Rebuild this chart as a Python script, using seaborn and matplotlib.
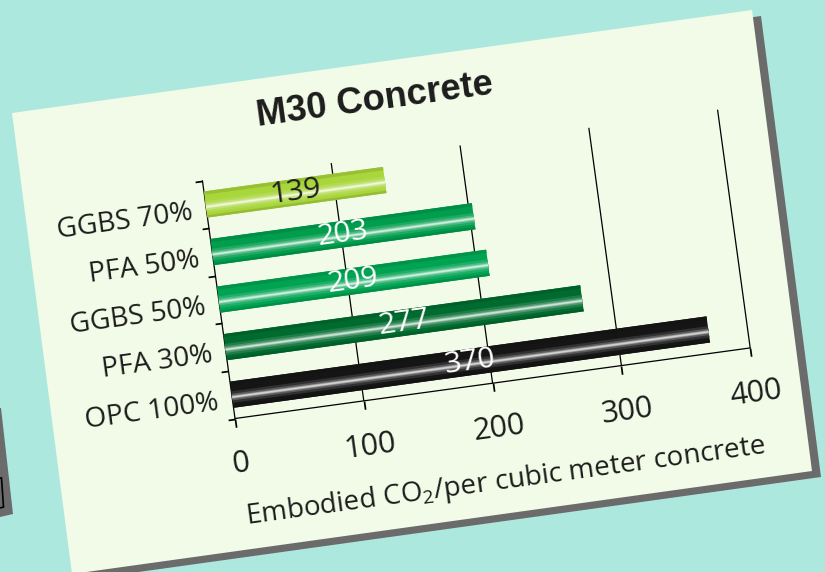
import numpy as np
import pandas as pd
import matplotlib
matplotlib.use("Agg")
import matplotlib.pyplot as plt
import matplotlib.patches as mpatches
import matplotlib.colors as mcolors
from matplotlib.transforms import Affine2D
import mpl_toolkits.axisartist.floating_axes as floating_axes
from mpl_toolkits.axisartist.grid_finder import FixedLocator, DictFormatter
import seaborn as sns

# --- data (categories listed bottom to top) ---
categories = ["OPC 100%", "PFA 30%", "GGBS 50%", "PFA 50%", "GGBS 70%"]
co2_values = [370, 277, 209, 203, 139]
bar_colors = ["#151515", "#006b2e", "#00a352", "#009d4d", "#a8d63b"]
label_colors = ["white", "white", "white", "white", "#1e1e1e"]
x_ticks = [0, 100, 200, 300, 400]
title = "M30 Concrete"
x_label = "Embodied CO$_\\mathregular{2}$/per cubic meter concrete"

# --- look / layout (pixels of the 825x572 picture) ---
W, H = 825, 572
BG = "#ade8df"
CARD = "#f2fbe7"
SHADOW = "#6b6b6b"
TEXT = "#1c1c1c"
ANGLE = 7.8            # whole card is tilted
PX_X = 1.3             # px per unit of CO2
PX_CAT = 48            # px per category slot
ORIGIN = (235, 418.5)  # image position of the axes' bottom-left corner
CARD_PTS = [(12, 113), (752, 10), (812, 471), (72, 574)]
SHADOW_OFF = (9, 6)


def to_fig(pts):
    return [(x / W, 1 - y / H) for x, y in pts]


def tint(c, w):
    rgb = np.array(mcolors.to_rgb(c))
    return tuple(rgb + (1 - rgb) * w)


def shade(c, d):
    rgb = np.array(mcolors.to_rgb(c))
    return tuple(rgb * (1 - d))


sns.set_theme(style="white")
plt.rcParams["font.family"] = ["Open Sans", "DejaVu Sans"]
plt.rcParams["mathtext.fontset"] = "custom"
plt.rcParams["mathtext.rm"] = "Open Sans"

fig = plt.figure(figsize=(W / 100, H / 100), dpi=100, facecolor=BG)

# card, its shadow and a bit of the neighbouring card (behind the axes)
shadow_pts = [(x + SHADOW_OFF[0], y + SHADOW_OFF[1]) for x, y in CARD_PTS]
fig.add_artist(mpatches.Polygon(to_fig(shadow_pts), closed=True, transform=fig.transFigure,
                                facecolor=SHADOW, edgecolor="none", zorder=-3))
fig.add_artist(mpatches.Polygon(to_fig(CARD_PTS), closed=True, transform=fig.transFigure,
                                facecolor=CARD, edgecolor="none", zorder=-2))
fig.add_artist(mpatches.Polygon(to_fig([(0, 408), (1, 408), (13, 514), (0, 517)]), closed=True,
                                transform=fig.transFigure, facecolor=SHADOW, edgecolor="none", zorder=-3))
fig.add_artist(mpatches.Polygon(to_fig([(0, 478), (1.5, 478), (3.5, 507), (0, 508)]), closed=False,
                                transform=fig.transFigure, facecolor="none", edgecolor="black",
                                linewidth=1.2, zorder=-2.5))

# rotated axes
n = len(categories)
x0, x1, y0, y1 = x_ticks[0], x_ticks[-1], -0.5, n - 0.5
tr = Affine2D().scale(PX_X, PX_CAT).rotate_deg(ANGLE)
corners = tr.transform([(x0, y0), (x1, y0), (x1, y1), (x0, y1)])
bmin, bmax = corners.min(0), corners.max(0)
mid, half = (bmin + bmax) / 2, (bmax - bmin) / 2 * 1.02
bmin, bmax = mid - half, mid + half
left_px = ORIGIN[0] - (corners[0][0] - bmin[0])
bottom_px = (H - ORIGIN[1]) - (corners[0][1] - bmin[1])
rect = [left_px / W, bottom_px / H, (bmax[0] - bmin[0]) / W, (bmax[1] - bmin[1]) / H]

boundaries = list(np.arange(n + 1) - 0.5)
grid_helper = floating_axes.GridHelperCurveLinear(
    tr, extremes=(x0, x1, y0, y1),
    grid_locator1=FixedLocator(x_ticks),
    tick_formatter1=DictFormatter({t: str(t) for t in x_ticks}),
    grid_locator2=FixedLocator(boundaries),
    tick_formatter2=DictFormatter({}))
ax = fig.add_axes(rect, axes_class=floating_axes.FloatingAxes, grid_helper=grid_helper)
ax.patch.set_facecolor("none")
aux = ax.get_aux_axes(tr)

ax.axis["top"].set_visible(False)
# the right edge only shows as the 400 grid line
ax.axis["right"].major_ticks.set_visible(False)
ax.axis["right"].major_ticklabels.set_visible(False)
ax.axis["right"].line.set_linewidth(0.9)
ax.axis["right"].line.set_color("black")
for side in ["bottom", "left"]:
    a = ax.axis[side]
    a.line.set_linewidth(0.9)
    a.line.set_color("black")
    a.major_ticks.set_tick_out(True)
    a.major_ticks.set_linewidth(0.9)
    a.major_ticks.set_color("black")
ax.axis["bottom"].major_ticks.set_ticksize(6)
ax.axis["left"].major_ticks.set_ticksize(5)
ax.axis["bottom"].major_ticklabels.set_fontsize(22)
ax.axis["bottom"].major_ticklabels.set_color(TEXT)
ax.axis["bottom"].major_ticklabels.set_pad(17)
ax.axis["bottom"].label.set_text(x_label)
ax.axis["bottom"].label.set_fontsize(20)
ax.axis["bottom"].label.set_color(TEXT)
ax.axis["bottom"].label.set_pad(21)
ax.grid(True, axis="x", color="black", linewidth=0.9)

# bars
df = pd.DataFrame({"mix": categories, "co2": co2_values})
sns.barplot(data=df, x="co2", y="mix", hue="mix", order=categories, hue_order=categories,
            palette=dict(zip(categories, bar_colors)), orient="h", width=0.55,
            errorbar=None, legend=False, saturation=1, linewidth=0, ax=aux, zorder=3)

# tube-like shading on each bar
pos = np.arange(n)
aux.barh(pos + 0.24, co2_values, height=0.07, color=[shade(c, 0.1) for c in bar_colors],
         linewidth=0, zorder=3.5)
aux.barh(pos - 0.25, co2_values, height=0.05, color=[shade(c, 0.12) for c in bar_colors],
         linewidth=0, zorder=3.5)
for h, w in [(0.24, 0.12), (0.14, 0.3), (0.07, 0.55), (0.035, 0.8)]:
    aux.barh(pos - 0.05, co2_values, height=h, color=[tint(c, w) for c in bar_colors],
             linewidth=0, zorder=4)

for p, v, lc in zip(pos, co2_values, label_colors):
    aux.text(v / 2, p, str(v), ha="center", va="center", rotation=ANGLE,
             rotation_mode="anchor", color=lc, fontsize=21.5, zorder=6)

for p, name in zip(pos, categories):
    aux.text(-10.5, p - 0.12, name, ha="right", va="center", rotation=ANGLE,
             rotation_mode="anchor", color=TEXT, fontsize=20.2)

aux.text(140, 5.67, title, ha="center", va="center", rotation=ANGLE, rotation_mode="anchor",
         color=TEXT, fontsize=26.2, fontweight="bold", family=["Liberation Sans", "DejaVu Sans"])

fig.savefig("out.png", dpi=100, facecolor=fig.get_facecolor())
